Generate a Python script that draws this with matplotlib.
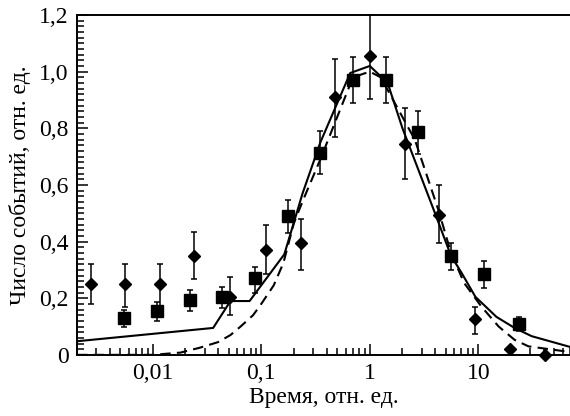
import numpy as np
import matplotlib
matplotlib.use("Agg")
import matplotlib.pyplot as plt
from matplotlib.ticker import FuncFormatter, FixedLocator, MultipleLocator, LogLocator

plt.rcParams['font.family'] = ['Liberation Serif', 'DejaVu Serif']

# ромбы
x_d = [0.0027, 0.0055, 0.0116, 0.024, 0.052, 0.111, 0.23, 0.48, 1.0, 2.1, 4.35, 9.4, 19.4, 41.0]
y_d = [0.25, 0.25, 0.25, 0.35, 0.205, 0.37, 0.395, 0.91, 1.055, 0.745, 0.495, 0.125, 0.02, 0.0]
lo_d = [0.18, 0.17, 0.17, 0.268, 0.141, 0.286, 0.30, 0.77, 0.905, 0.62, 0.395, 0.075, 0.02, 0.0]
hi_d = [0.32, 0.32, 0.32, 0.434, 0.275, 0.459, 0.48, 1.045, 1.2, 0.87, 0.60, 0.17, 0.02, 0.0]

# квадраты
x_s = [0.0054, 0.0109, 0.022, 0.0435, 0.088, 0.178, 0.35, 0.70, 1.41, 2.78, 5.62, 11.4, 23.5]
y_s = [0.131, 0.155, 0.194, 0.205, 0.272, 0.49, 0.713, 0.97, 0.97, 0.787, 0.349, 0.286, 0.109]
lo_s = [0.10, 0.12, 0.155, 0.165, 0.22, 0.43, 0.64, 0.89, 0.89, 0.71, 0.30, 0.237, 0.085]
hi_s = [0.16, 0.187, 0.23, 0.24, 0.31, 0.547, 0.79, 1.05, 1.05, 0.86, 0.395, 0.33, 0.134]

# сплошная кривая
x_sol = [0.002, 0.036, 0.052, 0.078, 0.163, 0.24, 0.35, 0.66, 1.0, 1.46, 2.0, 3.9, 5.6, 7.0, 9.4, 14.7, 21.6, 31.0, 70.0]
y_sol = [0.048, 0.095, 0.19, 0.19, 0.355, 0.57, 0.75, 0.995, 1.02, 0.96, 0.80, 0.51, 0.35, 0.29, 0.205, 0.134, 0.095, 0.066, 0.028]

# штриховая кривая
x_das = [0.002, 0.01, 0.018, 0.027, 0.04, 0.052, 0.064, 0.084, 0.1, 0.13, 0.16, 0.2, 0.245, 0.35, 0.7, 1.0,
         1.26, 2.6, 4.3, 5.6, 7.4, 10.7, 15.4, 21.6, 29.0, 70.0]
y_das = [0.0, 0.0, 0.008, 0.025, 0.045, 0.07, 0.099, 0.14, 0.18, 0.245, 0.325, 0.466, 0.55, 0.69, 0.98, 1.0,
         0.98, 0.76, 0.51, 0.36, 0.254, 0.17, 0.1, 0.053, 0.03, 0.01]

fig = plt.figure(figsize=(5.7, 4.16), dpi=100)
ax = fig.add_axes([0.135, 0.147, 0.865, 0.817])

ax.plot(x_sol, y_sol, color='black', lw=1.5)
ax.plot(x_das, y_das, color='black', lw=1.5, ls=(0, (5, 3)))

yd = np.array(y_d)
ax.errorbar(x_d, y_d, yerr=[yd - np.array(lo_d), np.array(hi_d) - yd], fmt='D', color='black',
            ms=6, capsize=2.5, elinewidth=1.1, capthick=1.1, clip_on=False, zorder=3)
ys = np.array(y_s)
ax.errorbar(x_s, y_s, yerr=[ys - np.array(lo_s), np.array(hi_s) - ys], fmt='s', color='black',
            ms=8, capsize=2.5, elinewidth=1.1, capthick=1.1, clip_on=False, zorder=3)

ax.set_xscale('log')
ax.set_xlim(0.002, 70)
ax.set_ylim(0, 1.2)

ax.xaxis.set_major_locator(FixedLocator([0.01, 0.1, 1, 10]))
ax.xaxis.set_minor_locator(LogLocator(base=10, subs=np.arange(2, 10)))
ax.xaxis.set_major_formatter(FuncFormatter(lambda v, p: ('%g' % v).replace('.', ',')))
ax.yaxis.set_major_locator(MultipleLocator(0.2))
ax.yaxis.set_minor_locator(MultipleLocator(0.02))
ax.yaxis.set_major_formatter(FuncFormatter(lambda v, p: '0' if abs(v) < 1e-9 else ('%.1f' % v).replace('.', ',')))

ax.tick_params(which='both', direction='in', top=False, right=False, labelsize=17, width=1.1)
ax.tick_params(which='major', length=8, pad=6)
ax.tick_params(which='minor', length=5)

for s in ['left', 'bottom', 'top']:
    ax.spines[s].set_linewidth(1.4)
ax.spines['right'].set_visible(False)

ax.set_xlabel('Время, отн. ед.', fontsize=17, labelpad=2)
ax.set_ylabel('Число событий, отн. ед.', fontsize=17, labelpad=6)

fig.savefig('out.png', dpi=100)
